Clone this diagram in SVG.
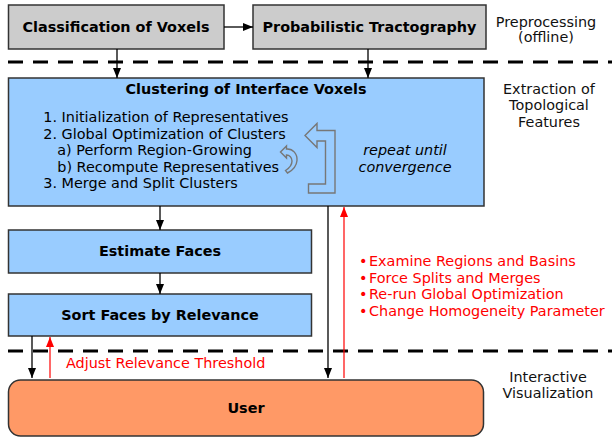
<svg xmlns="http://www.w3.org/2000/svg" width="612" height="438" viewBox="0 0 612 438">
<style>
  text { font-family: "DejaVu Sans", "Liberation Sans", sans-serif; font-size: 14.4px; fill: #000; }
  .b { font-weight: bold; text-anchor: middle; }
  .lbl { text-anchor: middle; fill: #111; }
  .red { fill: #ff0000; }
  .it { font-style: italic; text-anchor: middle; }
  .gray { fill: #cccccc; stroke: #333; stroke-width: 1.5; }
  .blue { fill: #99ccff; stroke: #333; stroke-width: 1.5; }
  .user { fill: #ff9966; stroke: #333; stroke-width: 1.5; }
  .dash { stroke: #000; stroke-width: 3; stroke-dasharray: 15 10; fill: none; }
  .conn { stroke: #000; stroke-width: 1.3; fill: none; }
  .rconn { stroke: #ff0000; stroke-width: 1.2; fill: none; }
  .icon { fill: none; stroke: #777; stroke-width: 1.4; stroke-linejoin: miter; }
</style>
<defs>
  <marker id="ah" viewBox="0 0 10 8" refX="10" refY="4" markerWidth="10" markerHeight="8" markerUnits="userSpaceOnUse" orient="auto">
    <path d="M0,0 L10,4 L0,8 Z" fill="#000"/>
  </marker>
  <marker id="ahr" viewBox="0 0 10 8" refX="10" refY="4" markerWidth="10" markerHeight="8" markerUnits="userSpaceOnUse" orient="auto">
    <path d="M0,0 L10,4 L0,8 Z" fill="#ff0000"/>
  </marker>
</defs>

<g id="separators">
  <line class="dash" x1="8" y1="62" x2="612" y2="62"/>
  <line class="dash" x1="8" y1="351" x2="612" y2="351"/>
</g>

<g id="node-classification">
  <rect class="gray" x="8.5" y="5" width="215.5" height="44"/>
  <text class="b" x="116" y="32">Classification of Voxels</text>
</g>
<g id="node-tractography">
  <rect class="gray" x="253" y="5" width="233" height="44"/>
  <text class="b" x="369.5" y="32">Probabilistic Tractography</text>
</g>

<g id="node-clustering">
  <rect class="blue" x="8.5" y="78" width="475.5" height="128"/>
  <text class="b" x="246" y="93.5">Clustering of Interface Voxels</text>
  <text x="43.3" y="122">1. Initialization of Representatives</text>
  <text x="43.3" y="138.5">2. Global Optimization of Clusters</text>
  <text x="57.3" y="155">a) Perform Region-Growing</text>
  <text x="57.3" y="171.5">b) Recompute Representatives</text>
  <text x="43.3" y="188">3. Merge and Split Clusters</text>
  <path class="icon" d="M280.5,152 L286.5,146 L286.5,149 C293,148.5 297.5,154 297,160.5 C296.5,166.5 292.5,170.5 287.5,173 L285.5,170.5 C289.5,168 292,165 292,161 C292,157.5 289.5,155 286.5,155 L286.5,158 Z"/>
  <path class="icon" d="M305,135.5 L317,123.5 L317,130.5 L335,130.5 L335,193 L308.5,193 L308.5,184 L325.5,184 L325.5,141 L317,141 L317,147.5 Z"/>
  <text class="it" x="405" y="155">repeat until</text>
  <text class="it" x="405" y="171.5">convergence</text>
</g>

<g id="node-estimate">
  <rect class="blue" x="8.5" y="230" width="303" height="43"/>
  <text class="b" x="160" y="256">Estimate Faces</text>
</g>
<g id="node-sort">
  <rect class="blue" x="8.5" y="294" width="303" height="42"/>
  <text class="b" x="160" y="320">Sort Faces by Relevance</text>
</g>

<g id="node-user">
  <rect class="user" x="8.5" y="380" width="475" height="56" rx="12" ry="12"/>
  <text class="b" x="246" y="413">User</text>
</g>

<g id="connectors">
  <line class="conn" x1="224" y1="27" x2="253" y2="27" marker-end="url(#ah)"/>
  <line class="conn" x1="117" y1="49" x2="117" y2="78" marker-end="url(#ah)"/>
  <line class="conn" x1="368" y1="49" x2="368" y2="78" marker-end="url(#ah)"/>
  <line class="conn" x1="160" y1="206" x2="160" y2="230" marker-end="url(#ah)"/>
  <line class="conn" x1="160" y1="273" x2="160" y2="294" marker-end="url(#ah)"/>
  <line class="conn" x1="328" y1="206" x2="328" y2="378" marker-end="url(#ah)"/>
  <line class="rconn" x1="344" y1="378" x2="344" y2="207" marker-end="url(#ahr)"/>
  <line class="conn" x1="32" y1="336" x2="32" y2="378" marker-end="url(#ah)"/>
  <line class="rconn" x1="50" y1="378" x2="50" y2="337" marker-end="url(#ahr)"/>
</g>

<g id="labels">
  <text class="lbl" x="546" y="27">Preprocessing</text>
  <text class="lbl" x="546" y="42">(offline)</text>
  <text class="lbl" x="549" y="93.5">Extraction of</text>
  <text class="lbl" x="549" y="110">Topological</text>
  <text class="lbl" x="549" y="126.5">Features</text>
  <text class="lbl" x="548" y="382">Interactive</text>
  <text class="lbl" x="548" y="398">Visualization</text>
  <text class="red" x="66" y="368">Adjust Relevance Threshold</text>
  <text class="red"><tspan x="359" y="266">•</tspan><tspan x="369" y="266">Examine Regions and Basins</tspan></text>
  <text class="red"><tspan x="359" y="282.7">•</tspan><tspan x="369" y="282.7">Force Splits and Merges</tspan></text>
  <text class="red"><tspan x="359" y="299.4">•</tspan><tspan x="369" y="299.4">Re-run Global Optimization</tspan></text>
  <text class="red"><tspan x="359" y="316">•</tspan><tspan x="369" y="316">Change Homogeneity Parameter</tspan></text>
</g>
</svg>
